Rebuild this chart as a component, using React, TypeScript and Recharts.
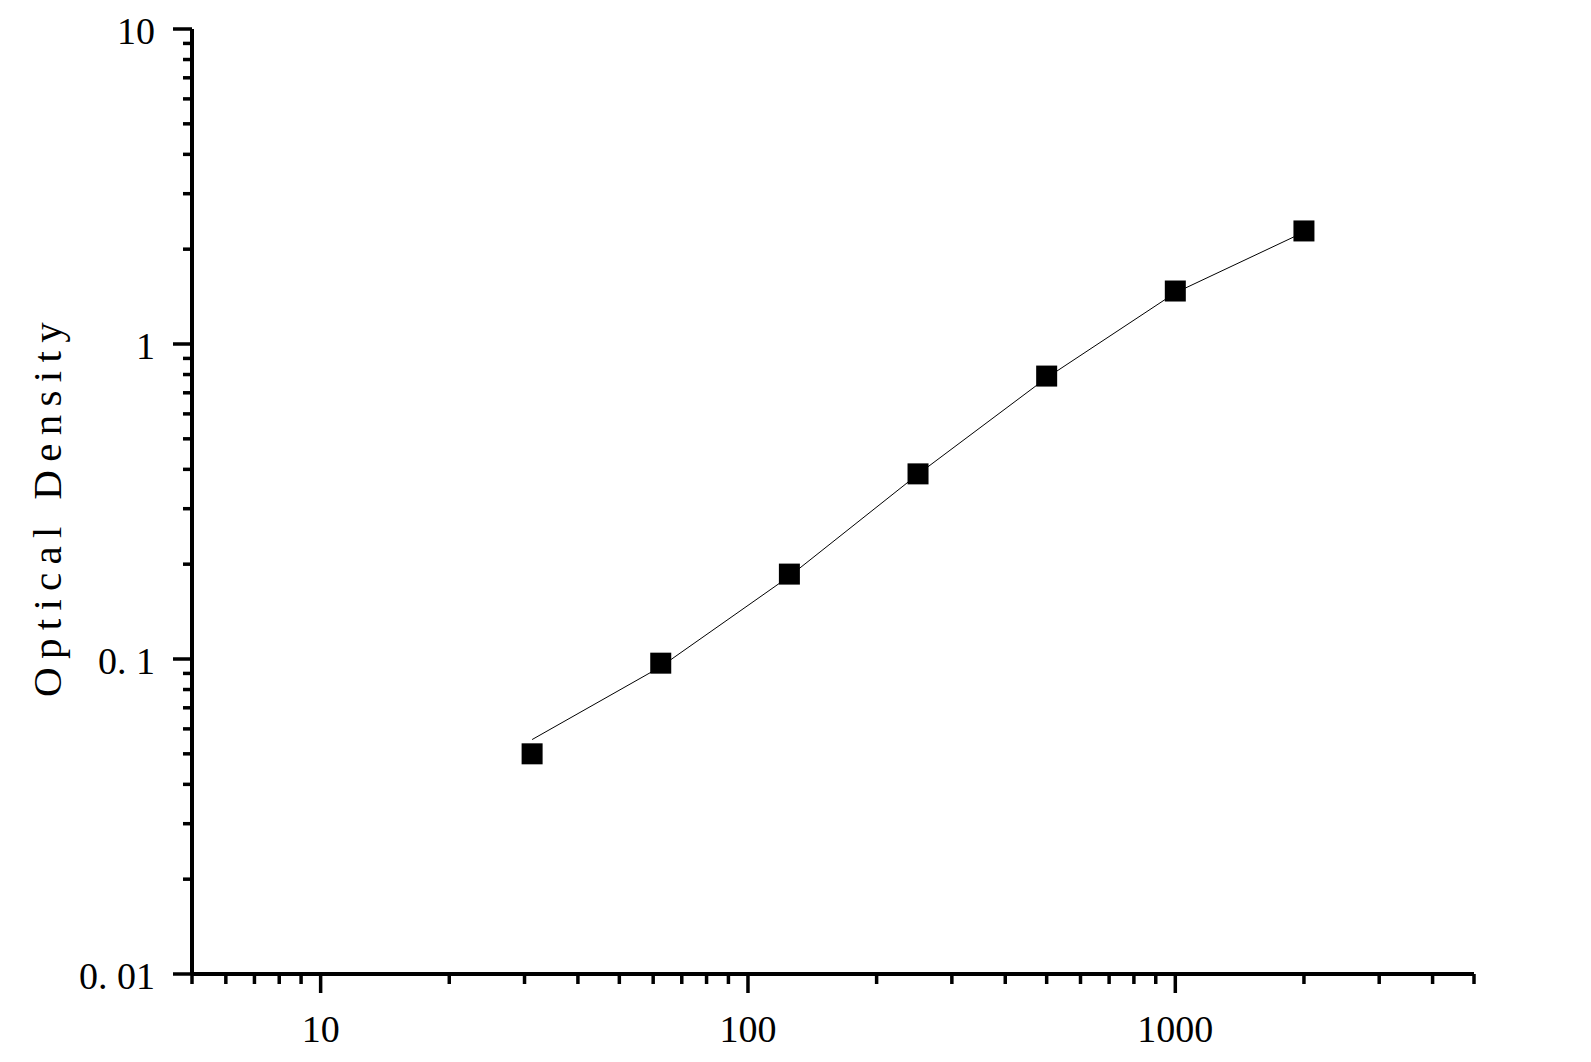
import {
  ComposedChart,
  Line,
  Scatter,
  XAxis,
  YAxis,
  Label,
} from "recharts";

// Standard concentrations and measured optical densities
const concentration = [31.25, 62.5, 125, 250, 500, 1000, 2000];
const odMeasured = [0.05, 0.097, 0.186, 0.387, 0.791, 1.473, 2.285];
// Fitted curve at the same concentrations
const odFit = [0.0555, 0.0945, 0.183, 0.386, 0.781, 1.454, 2.265];

const xTicks = [
  5, 6, 7, 8, 9, 10, 20, 30, 40, 50, 60, 70, 80, 90, 100, 200, 300, 400, 500,
  600, 700, 800, 900, 1000, 2000, 3000, 4000, 5000,
];
const xMajor = [10, 100, 1000];
const xLabels = ["10", "100", "1000"];

const yTicks = [
  0.01, 0.02, 0.03, 0.04, 0.05, 0.06, 0.07, 0.08, 0.09, 0.1, 0.2, 0.3, 0.4,
  0.5, 0.6, 0.7, 0.8, 0.9, 1, 2, 3, 4, 5, 6, 7, 8, 9, 10,
];
const yMajor = [0.01, 0.1, 1, 10];
const yLabels = ["0. 01", "0. 1", "1", "10"];

const points = concentration.map((c, i) => ({ x: c, y: odMeasured[i] }));
const fit = concentration.map((c, i) => ({ x: c, y: odFit[i] }));

const FONT = "'Liberation Serif', 'Times New Roman', serif";

function XTick(props: any) {
  const { x, y, payload } = props;
  const idx = xMajor.indexOf(payload.value);
  const major = idx >= 0;
  return (
    <g>
      <line x1={x} x2={x} y1={y} y2={y + (major ? 19 : 10)} stroke="#000" strokeWidth={3.5} />
      {major && (
        <text x={x} y={y + 55} textAnchor="middle" dominantBaseline="central" fontSize={38} fontFamily={FONT} fill="#000">
          {xLabels[idx]}
        </text>
      )}
    </g>
  );
}

function YTick(props: any) {
  const { x, y, payload } = props;
  const idx = yMajor.findIndex((v) => Math.abs(v - payload.value) < 1e-9);
  const major = idx >= 0;
  return (
    <g>
      <line x1={x} x2={x - (major ? 19 : 9)} y1={y} y2={y} stroke="#000" strokeWidth={3.5} />
      {major && (
        <text x={x - 37} y={y + 2} textAnchor="end" dominantBaseline="central" fontSize={38} fontFamily={FONT} fill="#000">
          {yLabels[idx]}
        </text>
      )}
    </g>
  );
}

const Square = (props: any) => (
  <rect x={props.cx - 10.5} y={props.cy - 10.5} width={21} height={21} fill="#000" />
);

export default function App() {
  return (
    <div style={{ position: "absolute", left: 0, top: 0, width: 1591, height: 1062, background: "#fff" }}>
      <ComposedChart
        width={1591}
        height={1062}
        margin={{ top: 29, right: 117, left: 0, bottom: 0 }}
      >
        <XAxis
          type="number"
          dataKey="x"
          scale="log"
          domain={[5, 5000]}
          ticks={xTicks}
          interval={0}
          allowDataOverflow
          height={88}
          tickSize={0}
          tickMargin={0}
          tickLine={false}
          axisLine={{ stroke: "#000", strokeWidth: 4 }}
          tick={<XTick />}
        />
        <YAxis
          type="number"
          dataKey="y"
          scale="log"
          domain={[0.01, 10]}
          ticks={yTicks}
          interval={0}
          allowDataOverflow
          width={192}
          tickSize={0}
          tickMargin={0}
          tickLine={false}
          axisLine={{ stroke: "#000", strokeWidth: 4 }}
          tick={<YTick />}
        >
          <Label
            content={(p: any) => {
              const vb = p.viewBox;
              const cx = vb.x + 47;
              const cy = vb.y + vb.height / 2 + 4;
              return (
                <text
                  x={cx}
                  y={cy}
                  transform={`rotate(-90, ${cx}, ${cy})`}
                  textAnchor="middle"
                  dominantBaseline="central"
                  fontSize={41}
                  letterSpacing={8.3}
                  fontFamily={FONT}
                  fill="#000"
                >
                  Optical Density
                </text>
              );
            }}
          />
        </YAxis>
        <Line
          data={fit}
          dataKey="y"
          type="linear"
          stroke="#000"
          strokeWidth={1}
          dot={false}
          activeDot={false}
          isAnimationActive={false}
        />
        <Scatter data={points} dataKey="y" shape={<Square />} isAnimationActive={false} />
      </ComposedChart>
    </div>
  );
}
